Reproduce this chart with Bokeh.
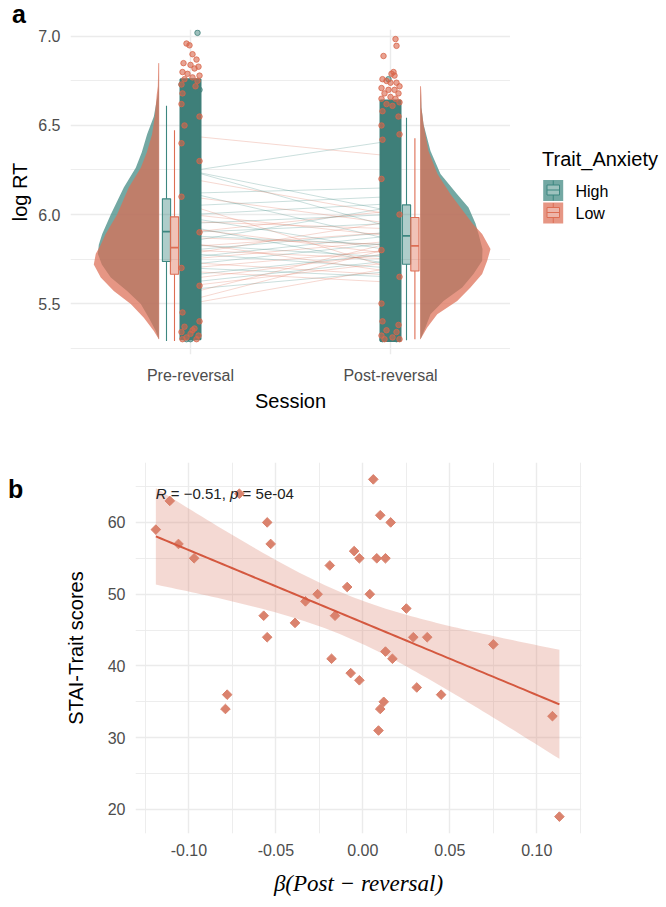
import numpy as np
from bokeh.plotting import figure
from bokeh.models import Range1d, FixedTicker, NumeralTickFormatter, Div
from bokeh.layouts import column, row
from bokeh.embed import file_html
from bokeh.resources import INLINE
from bokeh.core.properties import value

SANS = "Liberation Sans"
SERIF = "Liberation Serif"

TEAL = "#3D8780"
TEAL_PT = "#3E7F79"
RED = "#DD6E54"
RED_PT = "#D8664B"
GRID = "#EBEBEB"
TICK_TXT = "#4D4D4D"

# ---------------- Panel a: log RT by session and trait anxiety ----------------
sessions = ["Pre-reversal", "Post-reversal"]
groups = ["High", "Low"]

# box-plot summaries: lower whisker, Q1, median, Q3, upper whisker
box_pre_high = [5.290, 5.736, 5.904, 6.088, 6.610]
box_pre_low = [5.290, 5.665, 5.814, 5.987, 6.473]
box_post_high = [5.294, 5.721, 5.880, 6.054, 6.544]
box_post_low = [5.300, 5.683, 5.824, 5.983, 6.428]

# density outlines (relative density, 1 = widest curve)
dens_pre_y = [5.30, 5.346, 5.421, 5.498, 5.571, 5.646, 5.72, 5.78, 5.83, 5.889,
              6.00, 6.151, 6.263, 6.35, 6.45, 6.55, 6.675, 6.72, 6.80, 6.85]
dens_pre_high = [0.0, 0.043, 0.143, 0.257, 0.453, 0.686, 0.814, 0.871, 0.857, 0.810,
                 0.686, 0.500, 0.329, 0.243, 0.167, 0.071, 0.014, 0.007, 0.0, 0.0]
dens_pre_low = [0.0, 0.071, 0.214, 0.400, 0.643, 0.829, 0.929, 0.900, 0.829, 0.761,
                0.596, 0.429, 0.257, 0.171, 0.096, 0.057, 0.029, 0.014, 0.010, 0.007]

dens_post_y = [5.30, 5.365, 5.44, 5.515, 5.59, 5.666, 5.74, 5.807, 5.89, 5.95,
               6.039, 6.114, 6.228, 6.357, 6.507, 6.60, 6.66, 6.72]
dens_post_high = [0.0, 0.071, 0.143, 0.329, 0.596, 0.757, 0.881, 0.886, 0.829, 0.786,
                  0.686, 0.524, 0.286, 0.143, 0.043, 0.014, 0.007, 0.0]
dens_post_low = [0.0, 0.096, 0.239, 0.524, 0.714, 0.881, 0.953, 1.000, 0.881, 0.743,
                 0.571, 0.429, 0.243, 0.114, 0.043, 0.014, 0.014, 0.007]

# subject mean log RT in each session
high_pre = [6.245, 6.245, 6.245, 6.12, 6.12, 6.05, 6.00, 5.98, 5.95, 5.93, 5.90,
            5.88, 5.85, 5.83, 5.80, 5.78, 5.76, 5.72, 5.70, 5.66, 5.62, 5.58]
high_post = [6.413, 6.02, 5.93, 6.15, 5.86, 6.10, 6.06, 5.80, 6.00, 5.72, 5.95,
             5.83, 6.04, 5.76, 5.90, 5.70, 5.88, 5.84, 5.65, 5.78, 5.74, 5.68]
low_pre = [6.441, 6.20, 6.10, 6.05, 6.00, 5.96, 5.92, 5.90, 5.87, 5.84, 5.82,
           5.80, 5.78, 5.75, 5.73, 5.70, 5.68, 5.64, 5.60, 5.56, 5.52, 5.50]
low_post = [6.329, 6.00, 5.95, 5.70, 5.88, 5.92, 5.78, 6.02, 5.83, 5.68, 5.90,
            5.75, 5.96, 5.85, 5.66, 5.80, 5.62, 5.78, 5.73, 5.84, 5.81, 5.70]

# bulk range of single-trial log RT (High group, dense jittered cloud)
trials_range_pre = [5.30, 6.76]
trials_range_post = [5.29, 6.64]

# individual trials visible outside / on the edge of the cloud (jitter, log RT)
pre_low_dx = [-0.020, -0.005, 0.010, 0.030, -0.035, 0.000, 0.040, 0.020, -0.040, -0.015,
              0.045, 0.010, -0.030, 0.035, -0.045, 0.025, -0.040, -0.045, 0.045, -0.030,
              -0.045, 0.045, -0.045, 0.045, -0.045, 0.045,
              -0.040, 0.045, -0.030, 0.020, -0.045, 0.000, 0.040, -0.020, 0.030, -0.040, 0.010]
pre_low_y = [6.96, 6.95, 6.90, 6.87, 6.85, 6.84, 6.83, 6.82, 6.80, 6.79,
             6.78, 6.77, 6.76, 6.75, 6.73, 6.72, 6.68, 6.62, 6.55, 6.50,
             6.40, 6.30, 6.10, 5.90, 5.70, 5.60,
             5.45, 5.40, 5.37, 5.36, 5.34, 5.33, 5.32, 5.31, 5.30, 5.30, 5.35]
pre_high_dx = [0.035, -0.045, 0.045, -0.020, 0.015, 0.000]
pre_high_y = [7.02, 6.73, 6.70, 5.30, 5.31, 5.30]

post_low_dx = [0.025, 0.030, -0.035, 0.015, 0.005, 0.020,
               -0.040, -0.020, 0.000, 0.030, 0.045, -0.045, -0.010, 0.020, 0.040, -0.030,
               0.000, -0.045, 0.025, 0.045, -0.020, 0.010, -0.040, 0.040, -0.045, 0.045, -0.040,
               -0.045, 0.045, -0.045, 0.045, -0.045,
               -0.040, 0.040, -0.020, 0.030, -0.045, 0.010, 0.045, -0.030]
post_low_y = [6.985, 6.947, 6.89, 6.80, 6.79, 6.78,
              6.76, 6.75, 6.74, 6.74, 6.72, 6.71, 6.70, 6.70, 6.68, 6.68,
              6.66, 6.65, 6.65, 6.63, 6.62, 6.61, 6.58, 6.55, 6.50, 6.45, 6.42,
              6.20, 6.00, 5.80, 5.65, 5.50,
              5.40, 5.38, 5.35, 5.34, 5.32, 5.31, 5.30, 5.30]
post_high_dx = [-0.010, -0.040, 0.030]
post_high_y = [6.76, 5.30, 5.30]

# ---------------- Panel b: STAI-Trait vs beta(Post - reversal) ----------------
beta = [-0.119, -0.111, -0.106, -0.097, -0.071, -0.055, -0.053, -0.057, -0.055, -0.078,
        -0.079, -0.039, -0.033, -0.026, -0.019, -0.016, -0.018, -0.009, -0.007, -0.005,
        -0.002, -0.002, 0.006, 0.010, 0.016, 0.008, 0.013, 0.004, 0.025, 0.029,
        0.037, 0.075, 0.013, 0.017, 0.031, 0.045, 0.012, 0.010, 0.009, 0.109, 0.113]
stai = [59, 63, 57, 55, 64, 60, 57, 47, 44, 36,
        34, 46, 49, 50, 54, 47, 41, 51, 39, 56,
        55, 38, 66, 61, 60, 55, 55, 50, 48, 44,
        44, 43, 42, 41, 37, 36, 35, 34, 31, 33, 19]
NB = "\u00a0"
cor_label = ["R", NB + "=" + NB + "\u22120.51,", "p", NB + "=" + NB + "5e-04"]


def style_axes(p):
    for ax in p.axis:
        ax.axis_line_color = None
        ax.major_tick_line_color = None
        ax.minor_tick_line_color = None
        ax.major_tick_out = 0
        ax.major_tick_in = 0
        ax.minor_tick_out = 0
        ax.minor_tick_in = 0
        ax.major_label_text_font = SANS
        ax.major_label_text_font_size = "16px"
        ax.major_label_text_color = TICK_TXT
        ax.axis_label_text_font = SANS
        ax.axis_label_text_font_size = "20px"
        ax.axis_label_text_font_style = "normal"
        ax.axis_label_text_color = "#000000"
    p.grid.grid_line_color = GRID
    p.grid.grid_line_width = 1.4
    p.outline_line_color = None
    p.background_fill_color = "white"
    p.border_fill_color = "white"


def panel_tag(letter, w, h, top, left, line_h):
    html = ('<div style="font-family:\'Liberation Sans\';font-weight:bold;font-size:25px;'
            f'line-height:{line_h}px;margin:{top}px 0 0 {left}px;padding:0;color:#000;">{letter}</div>')
    return Div(text=html, width=w, height=h, margin=0)


# ---------------- panel a ----------------
TAG_A_H = 29
tag_a = panel_tag("a", 666, TAG_A_H, 0, 12, TAG_A_H)

Y_PX_PER_UNIT = 178.1
A_FRAME_BOTTOM = 354
a_frame_h = A_FRAME_BOTTOM - TAG_A_H
a_ymin = 5.214
a_ymax = a_ymin + a_frame_h / Y_PX_PER_UNIT

pos = {s: i + 1 for i, s in enumerate(sessions)}
pa = figure(frame_width=440, frame_height=a_frame_h,
            x_range=Range1d(0.4, 2.6), y_range=Range1d(a_ymin, a_ymax),
            min_border_left=70, min_border_right=0, min_border_top=0, min_border_bottom=76,
            toolbar_location=None, output_backend="svg")
pa.xaxis.axis_label = "Session"
pa.yaxis.axis_label = "log RT"
style_axes(pa)
pa.xaxis.ticker = FixedTicker(ticks=[pos[s] for s in sessions])
pa.xaxis.major_label_overrides = {pos[s]: s for s in sessions}
pa.yaxis.ticker = FixedTicker(ticks=[5.5, 6.0, 6.5, 7.0], minor_ticks=[5.25, 5.75, 6.25, 6.75])
pa.yaxis.formatter = NumeralTickFormatter(format="0.0")
pa.ygrid.minor_grid_line_color = GRID
pa.ygrid.minor_grid_line_width = 0.9
pa.xaxis.major_label_standoff = 12
pa.xaxis.axis_label_standoff = 3
pa.yaxis.major_label_standoff = 10
pa.yaxis.axis_label_standoff = 4

VIOLIN_W = 0.35      # x-units at relative density 1
VIOLIN_ALPHA = 0.72
pre_x, post_x = pos["Pre-reversal"], pos["Post-reversal"]
pre_edge = pre_x - 0.1585
post_edge = post_x + 0.15

# half violins: pre to the left, post to the right; Low drawn over High
pa.harea(x1=[pre_edge - VIOLIN_W * d for d in dens_pre_high], x2=pre_edge, y=dens_pre_y,
         fill_color=TEAL, fill_alpha=VIOLIN_ALPHA)
pa.harea(x1=[pre_edge - VIOLIN_W * d for d in dens_pre_low], x2=pre_edge, y=dens_pre_y,
         fill_color=RED, fill_alpha=VIOLIN_ALPHA)
pa.harea(x1=post_edge, x2=[post_edge + VIOLIN_W * d for d in dens_post_high], y=dens_post_y,
         fill_color=TEAL, fill_alpha=VIOLIN_ALPHA)
pa.harea(x1=post_edge, x2=[post_edge + VIOLIN_W * d for d in dens_post_low], y=dens_post_y,
         fill_color=RED, fill_alpha=VIOLIN_ALPHA)
pa.segment(x0=[pre_edge, post_edge], y0=[dens_pre_y[0], dens_post_y[0]],
           x1=[pre_edge, post_edge], y1=[dens_pre_y[-1], dens_post_y[-1]],
           line_color=RED, line_alpha=0.6, line_width=0.8)

# box plots
BOX_W = 0.041
boxes = [
    (pre_x - 0.12, box_pre_high, TEAL),
    (pre_x - 0.08, box_pre_low, RED),
    (post_x + 0.08, box_post_high, TEAL),
    (post_x + 0.122, box_post_low, RED),
]
for cx, st, col in boxes:
    lo, q1, med, q3, hi = st
    pa.segment(x0=[cx, cx], y0=[lo, q3], x1=[cx, cx], y1=[q1, hi], line_color=col, line_width=1.1)
    pa.quad(left=cx - BOX_W / 2, right=cx + BOX_W / 2, bottom=q1, top=q3,
            fill_color=col, fill_alpha=0.42, line_color=col, line_width=1.1)
    pa.segment(x0=cx - BOX_W / 2, y0=med, x1=cx + BOX_W / 2, y1=med, line_color=col, line_width=1.6)

# subject trajectories between sessions
pa.multi_line(xs=[[pre_x, post_x]] * len(high_pre), ys=[[a, b] for a, b in zip(high_pre, high_post)],
              line_color=TEAL, line_alpha=0.3, line_width=0.9)
pa.multi_line(xs=[[pre_x, post_x]] * len(low_pre), ys=[[a, b] for a, b in zip(low_pre, low_post)],
              line_color=RED, line_alpha=0.3, line_width=0.9)

# dense single-trial clouds
JIT = 0.05
pa.quad(left=[pre_x - JIT, post_x - JIT], right=[pre_x + JIT, post_x + JIT],
        bottom=[trials_range_pre[0], trials_range_post[0]],
        top=[trials_range_pre[1], trials_range_post[1]],
        fill_color=TEAL_PT, line_color=TEAL_PT, line_width=2)
pa.scatter(x=[pre_x + d for d in pre_high_dx] + [post_x + d for d in post_high_dx],
           y=pre_high_y + post_high_y, size=5.5,
           fill_color=TEAL_PT, fill_alpha=0.5, line_color=TEAL_PT, line_alpha=0.8)
pa.scatter(x=[pre_x + d for d in pre_low_dx] + [post_x + d for d in post_low_dx],
           y=pre_low_y + post_low_y, size=5.5,
           fill_color=RED_PT, fill_alpha=0.6, line_color=RED_PT, line_alpha=0.8)

# ---------------- legend (frame shares the vertical extent of panel a's frame) ----------------
lg = figure(frame_width=156, frame_height=a_frame_h,
            x_range=Range1d(510, 666), y_range=Range1d(A_FRAME_BOTTOM, TAG_A_H),
            min_border_left=0, min_border_right=0, min_border_top=0, min_border_bottom=76,
            toolbar_location=None, output_backend="svg",
            x_axis_location=None, y_axis_location=None)
lg.grid.visible = False
lg.outline_line_color = None
lg.text(x=[541.5], y=[158.5], text=["Trait_Anxiety"], text_font=value(SANS),
        text_font_size="20px", text_baseline="middle", text_color="#000000")
key_cols = [TEAL, RED]
for i, (g, col) in enumerate(zip(groups, key_cols)):
    top = 179.5 + i * 22.5
    lg.quad(left=542.7, right=562.7, top=top, bottom=top + 21, fill_color=col,
            fill_alpha=VIOLIN_ALPHA, line_color=None)
    lg.quad(left=546.5, right=559, top=top + 5, bottom=top + 15, fill_color="white",
            fill_alpha=0.3, line_color=col, line_width=1)
    lg.segment(x0=[546.5, 552.75, 552.75], y0=[top + 10, top + 0.5, top + 15],
               x1=[559, 552.75, 552.75], y1=[top + 10, top + 5, top + 20.5],
               line_color=col, line_width=1)
    lg.text(x=[575], y=[top + 11], text=[g], text_font=value(SANS), text_font_size="16px",
            text_baseline="middle", text_color="#000000")

# ---------------- panel b ----------------
tag_b = panel_tag("b", 30, 477, 47, 8, 25)

pb = figure(frame_width=446, frame_height=371,
            x_range=Range1d(-0.1307, 0.1257), y_range=Range1d(16.65, 68.35),
            min_border_left=105, min_border_right=85, min_border_top=32, min_border_bottom=74,
            toolbar_location=None, output_backend="svg")
pb.xaxis.axis_label = "\u03b2(Post \u2212 reversal)"
pb.yaxis.axis_label = "STAI-Trait scores"
style_axes(pb)
pb.xaxis.axis_label_text_font = SERIF
pb.xaxis.axis_label_text_font_style = "italic"
pb.xaxis.axis_label_text_font_size = "23px"
pb.xaxis.ticker = FixedTicker(ticks=[-0.10, -0.05, 0.0, 0.05, 0.10],
                              minor_ticks=[-0.125, -0.075, -0.025, 0.025, 0.075, 0.125])
pb.xaxis.formatter = NumeralTickFormatter(format="0.00")
pb.yaxis.ticker = FixedTicker(ticks=[20, 30, 40, 50, 60], minor_ticks=[25, 35, 45, 55, 65])
pb.grid.minor_grid_line_color = GRID
pb.grid.minor_grid_line_width = 0.9
pb.xaxis.major_label_standoff = 10
pb.xaxis.axis_label_standoff = 12
pb.yaxis.major_label_standoff = 10
pb.yaxis.axis_label_standoff = 18

# least-squares fit with 95% confidence band
bx = np.asarray(beta, dtype=float)
sy = np.asarray(stai, dtype=float)
n = len(bx)
slope, intercept = np.polyfit(bx, sy, 1)
resid = sy - (intercept + slope * bx)
s_err = np.sqrt(np.sum(resid ** 2) / (n - 2))
sxx = np.sum((bx - bx.mean()) ** 2)
T975 = 2.0227  # Student t, 0.975 quantile, 39 df
gx = np.linspace(bx.min(), bx.max(), 80)
gy = intercept + slope * gx
half = T975 * s_err * np.sqrt(1.0 / n + (gx - bx.mean()) ** 2 / sxx)

PT_COL = "#DA826D"
pb.varea(x=gx, y1=gy - half, y2=gy + half, fill_color=PT_COL, fill_alpha=0.3)
pb.scatter(x=beta, y=stai, marker="square", angle=np.pi / 4, size=6.8,
           fill_color=PT_COL, line_color=PT_COL)
pb.line(x=gx, y=gy, line_color="#D4583F", line_width=2)

# correlation annotation (R and p in italics)
offsets = [0, 10.8, 74.2, 82.6]
styles = ["italic", "normal", "italic", "normal"]
for txt, off, sty in zip(cor_label, offsets, styles):
    pb.text(x=[bx.min()], y=[64.0], text=[txt], x_offset=off, text_font=value(SANS),
            text_font_size="15px", text_font_style=sty, text_baseline="middle",
            text_color="#222222")

layout = column(tag_a, row(pa, lg), row(tag_b, pb))
open("out.html", "w").write(file_html(layout, INLINE))
